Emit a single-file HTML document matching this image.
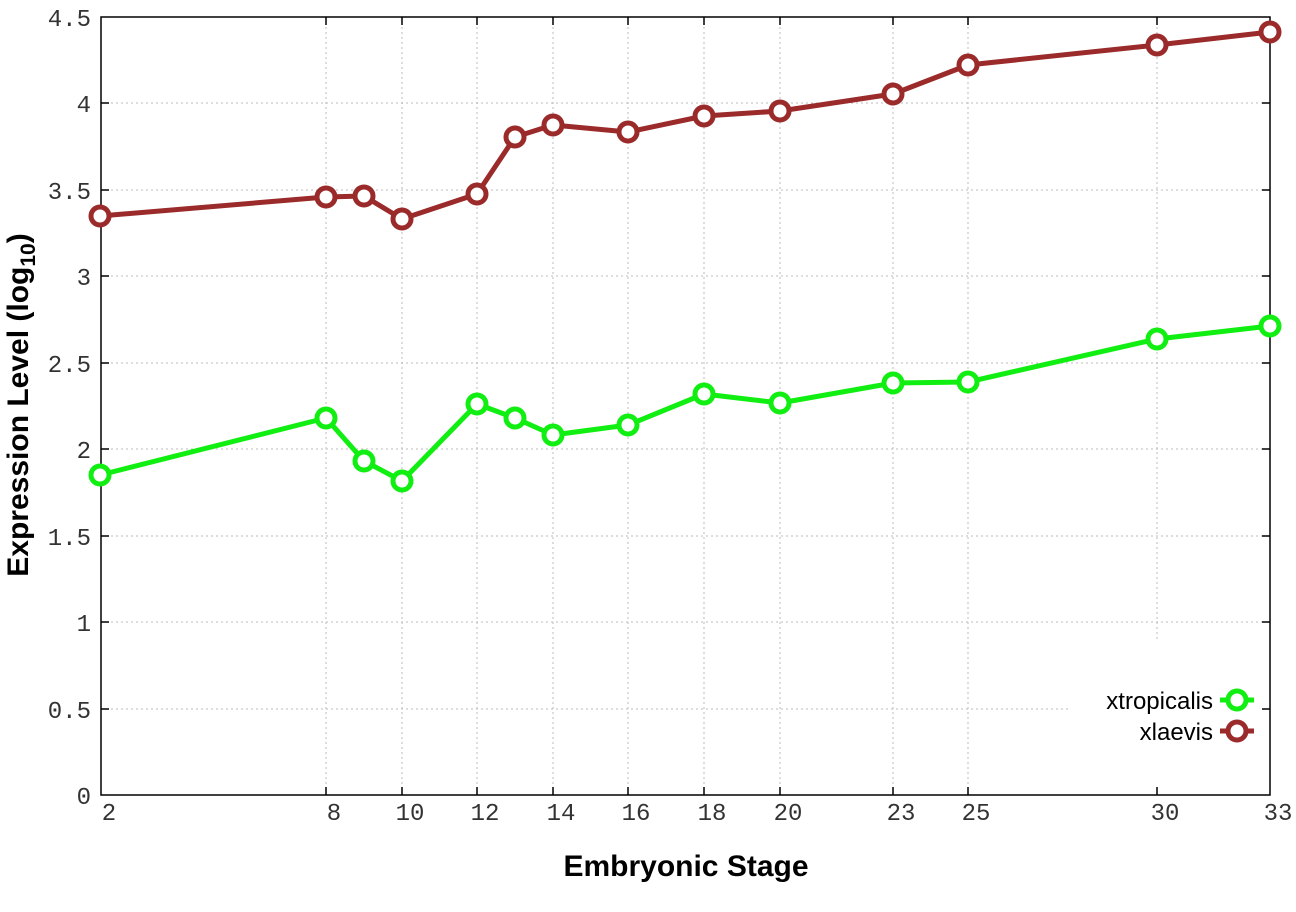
<!DOCTYPE html>
<html><head><meta charset="utf-8"><style>body{margin:0;background:#fff}</style></head><body>
<svg width="1296" height="907" xmlns="http://www.w3.org/2000/svg">
<rect width="1296" height="907" fill="#fff"/>
<g stroke="#bbb" stroke-width="1" stroke-dasharray="2,3">
<line x1="101" x2="1270" y1="103" y2="103"/><line x1="101" x2="1270" y1="190" y2="190"/>
<line x1="101" x2="1270" y1="276" y2="276"/><line x1="101" x2="1270" y1="363" y2="363"/>
<line x1="101" x2="1270" y1="449" y2="449"/><line x1="101" x2="1270" y1="536" y2="536"/>
<line x1="101" x2="1270" y1="622" y2="622"/><line x1="101" x2="1070" y1="709" y2="709"/>
<line x1="326" x2="326" y1="17" y2="795"/><line x1="402" x2="402" y1="17" y2="795"/>
<line x1="477" x2="477" y1="17" y2="795"/><line x1="553" x2="553" y1="17" y2="795"/>
<line x1="628" x2="628" y1="17" y2="795"/><line x1="704" x2="704" y1="17" y2="795"/>
<line x1="780" x2="780" y1="17" y2="795"/><line x1="893" x2="893" y1="17" y2="795"/>
<line x1="968" x2="968" y1="17" y2="795"/><line x1="1157" x2="1157" y1="17" y2="640"/>
</g>
<g stroke="#000" stroke-width="1.5">
<rect x="101" y="17" width="1169" height="778" fill="none"/>
<path d="M101 103h8M101 190h8M101 276h8M101 363h8M101 449h8M101 536h8M101 622h8M101 709h8M1270 103h-8M1270 190h-8M1270 276h-8M1270 363h-8M1270 449h-8M1270 536h-8M1270 622h-8M1270 709h-8"/>
<path d="M326 795v-8M402 795v-8M477 795v-8M553 795v-8M628 795v-8M704 795v-8M780 795v-8M893 795v-8M968 795v-8M1157 795v-8M326 17v8M402 17v8M477 17v8M553 17v8M628 17v8M704 17v8M780 17v8M893 17v8M968 17v8M1157 17v8"/>
</g>
<g font-family="Liberation Mono, monospace" font-size="24" fill="#333" text-anchor="end">
<text x="91" y="26">4.5</text><text x="91" y="112">4</text><text x="91" y="199">3.5</text>
<text x="91" y="285">3</text><text x="91" y="372">2.5</text><text x="91" y="458">2</text>
<text x="91" y="545">1.5</text><text x="91" y="631">1</text><text x="91" y="718">0.5</text><text x="91" y="804">0</text>
</g>
<g font-family="Liberation Mono, monospace" font-size="24" fill="#333" text-anchor="middle">
<text x="109" y="820">2</text><text x="334" y="820">8</text><text x="410" y="820">10</text>
<text x="485" y="820">12</text><text x="561" y="820">14</text><text x="636" y="820">16</text>
<text x="712" y="820">18</text><text x="788" y="820">20</text><text x="901" y="820">23</text>
<text x="976" y="820">25</text><text x="1165" y="820">30</text><text x="1278" y="820">33</text>
</g>
<text x="686" y="876" font-family="Liberation Sans, sans-serif" font-weight="bold" font-size="30" text-anchor="middle">Embryonic Stage</text>
<text transform="translate(28,405) rotate(-90)" font-family="Liberation Sans, sans-serif" font-weight="bold" font-size="30" text-anchor="middle">Expression Level (log<tspan font-size="21" dy="7">10</tspan><tspan dy="-7">)</tspan></text>
<g fill="none" stroke-width="5" stroke-linejoin="round">
<polyline stroke="#9b2a2a" points="100,216 326,197 364,196 402,219 477,194 515,137 553,125 628,132 704,116 780,111 893,94 968,65 1157,45 1270,32"/>
<polyline stroke="#11ee11" points="100,475 326,418 364,461 402,481 477,404 515,418 553,435 628,425 704,394 780,403 893,383 968,382 1157,339 1270,326"/>
</g>
<g fill="#fff" stroke-width="5">
<g stroke="#9b2a2a">
<circle cx="100" cy="216" r="9"/><circle cx="326" cy="197" r="9"/><circle cx="364" cy="196" r="9"/><circle cx="402" cy="219" r="9"/><circle cx="477" cy="194" r="9"/><circle cx="515" cy="137" r="9"/><circle cx="553" cy="125" r="9"/><circle cx="628" cy="132" r="9"/><circle cx="704" cy="116" r="9"/><circle cx="780" cy="111" r="9"/><circle cx="893" cy="94" r="9"/><circle cx="968" cy="65" r="9"/><circle cx="1157" cy="45" r="9"/><circle cx="1270" cy="32" r="9"/>
</g>
<g stroke="#11ee11">
<circle cx="100" cy="475" r="9"/><circle cx="326" cy="418" r="9"/><circle cx="364" cy="461" r="9"/><circle cx="402" cy="481" r="9"/><circle cx="477" cy="404" r="9"/><circle cx="515" cy="418" r="9"/><circle cx="553" cy="435" r="9"/><circle cx="628" cy="425" r="9"/><circle cx="704" cy="394" r="9"/><circle cx="780" cy="403" r="9"/><circle cx="893" cy="383" r="9"/><circle cx="968" cy="382" r="9"/><circle cx="1157" cy="339" r="9"/><circle cx="1270" cy="326" r="9"/>
</g>
</g>
<g font-family="Liberation Sans, sans-serif" font-size="24" text-anchor="end" fill="#000">
<text x="1213" y="709">xtropicalis</text><text x="1213" y="740">xlaevis</text>
</g>
<line x1="1220" x2="1254" y1="700" y2="700" stroke="#11ee11" stroke-width="5"/>
<circle cx="1237" cy="700" r="9" fill="#fff" stroke="#11ee11" stroke-width="5"/>
<line x1="1220" x2="1254" y1="731" y2="731" stroke="#9b2a2a" stroke-width="5"/>
<circle cx="1237" cy="731" r="9" fill="#fff" stroke="#9b2a2a" stroke-width="5"/>
</svg>
</body></html>
